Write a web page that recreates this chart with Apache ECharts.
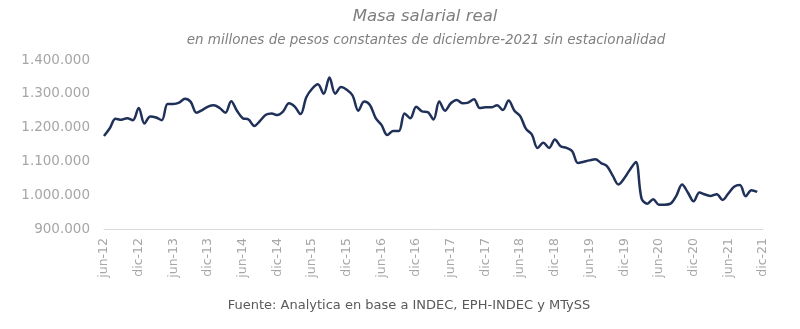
<!DOCTYPE html>
<html>
<head>
<meta charset="utf-8">
<script src="https://cdn.jsdelivr.net/npm/echarts@6/dist/echarts.min.js"></script>
<style>
html,body{margin:0;padding:0;background:#fff;}
#chart{width:800px;height:329px;}
</style>
</head>
<body>
<div id="chart"></div>
<script>
// Month abbreviations and years used to build the category labels (jun-12 .. dic-21)
var monthNames = ['ene','feb','mar','abr','may','jun','jul','ago','sep','oct','nov','dic'];
var startYear = 2012, startMonth = 5, monthCount = 115;

// Masa salarial real (thousands of pesos shown in the axis units), jun-12 .. nov-21
var masaSalarial = [
  1175,1198,1226,1223,1228,1222,1258,1212,1233,1230,1222,1270,
  1270,1274,1285,1276,1244,1252,1262,1266,1258,1244,1278,1250,
  1228,1224,1205,1220,1238,1242,1237,1248,1272,1262,1240,1290,
  1315,1328,1300,1348,1300,1320,1312,1295,1250,1277,1267,1228,
  1208,1178,1190,1190,1242,1228,1262,1248,1246,1224,1277,1250,
  1272,1282,1272,1274,1284,1258,1260,1260,1266,1252,1280,1250,
  1234,1196,1180,1140,1155,1140,1165,1145,1140,1130,1095,1099,
  1103,1106,1095,1086,1058,1032,1050,1076,1098,990,975,988,
  972,972,975,998,1032,1008,982,1008,1002,998,1003,986,
  1005,1025,1030,997,1015,1010
];

// Y-axis ticks (in thousands)
var yMin = 900, yMax = 1400, yStep = 100;

var categories = [];
for (var k = 0; k < monthCount; k++) {
  var m = (startMonth + k) % 12;
  var y = startYear + Math.floor((startMonth + k) / 12);
  categories.push(monthNames[m] + '-' + String(y).slice(2));
}

function fmtThousands(v) {
  var n = Math.round(v * 1000);
  return n.toString().replace(/\B(?=(\d{3})+(?!\d))/g, '.');
}

var FONT = 'DejaVu Sans';
var chart = echarts.init(document.getElementById('chart'), null, {renderer: 'canvas'});
chart.setOption({
  animation: false,
  backgroundColor: '#ffffff',
  title: [{
    text: 'Masa salarial real',
    left: 420, top: 3, textAlign: 'center',
    textStyle: {fontFamily: FONT, fontStyle: 'italic', fontWeight: 'normal', fontSize: 16.5, color: '#7f7f7f'}
  }, {
    text: 'en millones de pesos constantes de diciembre-2021 sin estacionalidad',
    left: 421, top: 28, textAlign: 'center',
    textStyle: {fontFamily: FONT, fontStyle: 'italic', fontWeight: 'normal', fontSize: 13.5, color: '#7f7f7f'}
  }, {
    text: 'Fuente: Analytica en base a INDEC, EPH-INDEC y MTySS',
    left: 404, top: 294, textAlign: 'center',
    textStyle: {fontFamily: FONT, fontWeight: 'normal', fontSize: 13, color: '#595959'}
  }],
  grid: {left: 104, right: 37, top: 60, bottom: 100, containLabel: false},
  xAxis: {
    type: 'category',
    data: categories,
    boundaryGap: false,
    axisLine: {show: true, lineStyle: {color: '#d9d9d9', width: 1}},
    axisTick: {show: false},
    axisLabel: {
      interval: 5, rotate: 90, margin: 9,
      fontFamily: FONT, fontSize: 12.5, color: '#a6a6a6'
    },
    splitLine: {show: false}
  },
  yAxis: {
    type: 'value',
    min: yMin, max: yMax, interval: yStep,
    axisLine: {show: false},
    axisTick: {show: false},
    splitLine: {show: false},
    axisLabel: {
      margin: 14,
      fontFamily: FONT, fontSize: 13.5, color: '#a6a6a6',
      formatter: fmtThousands
    }
  },
  series: [{
    type: 'line',
    data: masaSalarial,
    smooth: 0.35,
    showSymbol: false,
    lineStyle: {color: '#1f3059', width: 2.5},
    itemStyle: {color: '#1f3059'}
  }]
});
</script>
</body>
</html>
